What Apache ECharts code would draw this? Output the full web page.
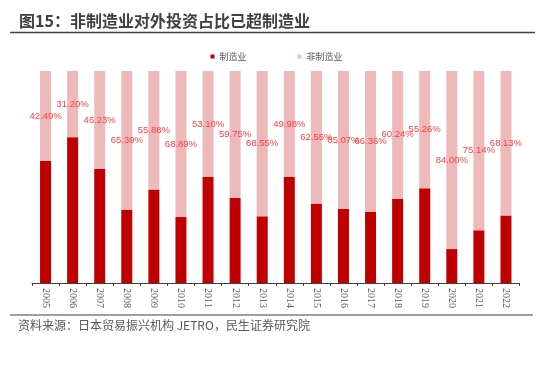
<!DOCTYPE html>
<html>
<head>
<meta charset="utf-8">
<script src="https://cdn.jsdelivr.net/npm/echarts@6/dist/echarts.min.js"></script>
<style>
html,body{margin:0;padding:0;background:#fff;}
#c{width:553px;height:369px;}
</style>
</head>
<body>
<div id="c"></div>
<script>
var years = ['2005','2006','2007','2008','2009','2010','2011','2012','2013','2014','2015','2016','2017','2018','2019','2020','2021','2022'];
// 制造业 share (%)
var manufacturing = [57.51, 68.80, 53.77, 34.61, 44.12, 31.11, 50.00, 40.25, 31.45, 50.02, 37.45, 34.93, 33.64, 39.76, 44.74, 16.00, 24.86, 31.87];
// 非制造业 share (%)
var nonManufacturing = [42.49, 31.20, 46.23, 65.39, 55.88, 68.89, 50.00, 59.75, 68.55, 49.98, 62.55, 65.07, 66.36, 60.24, 55.26, 84.00, 75.14, 68.13];
// data labels as printed on the chart
var labelTexts = ['42.49%','31.20%','46.23%','65.39%','55.88%','68.89%','53.10%','59.75%','68.55%','49.98%','62.55%','85.07%','66.36%','60.24%','55.26%','84.00%','75.14%','68.13%'];

var chart = echarts.init(document.getElementById('c'), null, {renderer:'canvas'});
var cjk = '"Noto Sans CJK SC", sans-serif';
chart.setOption({
  animation:false,
  backgroundColor:'#fff',
  legend:{
    data:['制造业','非制造业'],
    left:'center', top:47,
    itemWidth:4, itemHeight:4, itemGap:51,
    icon:'rect',
    textStyle:{fontSize:9, color:'#595959', fontFamily:cjk}
  },
  grid:{left:32, right:33.5, top:71, bottom:86},
  xAxis:{
    type:'category',
    data:years,
    axisLine:{lineStyle:{color:'#404040', width:1}},
    axisTick:{show:true, length:3, inside:false, lineStyle:{color:'#404040'}},
    axisLabel:{rotate:-90, margin:5, fontSize:10, color:'#595959', fontFamily:'"Liberation Serif", serif'}
  },
  yAxis:{type:'value', min:0, max:100, show:false, splitLine:{show:false}},
  series:[
    {
      name:'制造业', type:'bar', stack:'s', barWidth:11,
      itemStyle:{color:'#c00000'},
      data:manufacturing
    },
    {
      name:'非制造业', type:'bar', stack:'s', barWidth:11,
      itemStyle:{color:'#eeb9bb'},
      label:{
        show:true, position:'inside',
        formatter:function(p){return labelTexts[p.dataIndex];},
        color:'#ff4040', fontSize:9.5, fontFamily:'"Liberation Sans", Arial, sans-serif'
      },
      data:nonManufacturing
    }
  ],
  graphic:[
    {type:'text', left:19, top:13, style:{text:'图15：非制造业对外投资占比已超制造业', font:'bold 16px "Noto Sans CJK SC"', fill:'#404040'}},
    {type:'line', shape:{x1:10, y1:32.5, x2:535, y2:32.5}, style:{stroke:'#404040', lineWidth:1.5}},
    {type:'line', shape:{x1:10, y1:315, x2:533, y2:315}, style:{stroke:'#7f7f7f', lineWidth:1.5}},
    {type:'text', left:18, top:319, style:{text:'资料来源：日本贸易振兴机构 JETRO，民生证券研究院', font:'12px "Noto Sans CJK SC"', fill:'#595959'}}
  ]
});
</script>
</body>
</html>
